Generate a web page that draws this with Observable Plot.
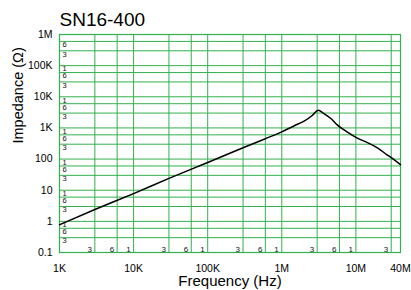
<!DOCTYPE html>
<html>
<head>
<meta charset="utf-8">
<script src="https://cdn.jsdelivr.net/npm/d3@7"></script>
<script src="https://cdn.jsdelivr.net/npm/@observablehq/plot@0.6"></script>
<style>
  html, body { margin: 0; padding: 0; background: #fff; }
  svg { font-family: "Liberation Sans", Arial, Helvetica, sans-serif; }
</style>
</head>
<body>
<div id="chart"></div>
<script>
const title = "SN16-400";
const xTitle = "Frequency (Hz)";
const yTitle = "Impedance (Ω)";

// Measured curve
const freqHz = [1e3, 3e3, 1e4, 3e4, 1e5, 3e5, 6e5, 1e6, 1.5e6, 2e6, 2.6e6, 3.1e6, 3.7e6, 4.6e6, 5.6e6, 7e6, 1e7, 1.5e7, 2e7, 2.6e7, 3.2e7, 4e7];
const impedanceOhm = [0.78, 2.4, 7.8, 24, 78, 230, 450, 750, 1200, 1650, 2550, 3700, 2900, 2000, 1250, 850, 500, 320, 220, 140, 100, 66];

// Axis ticks
const xTicks = [1e3, 1e4, 1e5, 1e6, 1e7, 4e7];
const xTickLabels = ["1K", "10K", "100K", "1M", "10M", "40M"];
const yTicks = [0.1, 1, 10, 100, 1e3, 1e4, 1e5, 1e6];
const yTickLabels = ["0.1", "1", "10", "100", "1K", "10K", "100K", "1M"];

// Grid lines and in-plot minor labels
const xGrid = [3e3, 6e3, 1e4, 3e4, 6e4, 1e5, 3e5, 6e5, 1e6, 3e6, 6e6, 1e7, 3e7];
const xGridLabels = ["3", "6", "1", "3", "6", "1", "3", "6", "1", "3", "6", "1", "3"];
const yGrid = [0.3, 0.6, 1, 3, 6, 10, 30, 60, 100, 300, 600, 1e3, 3e3, 6e3, 1e4, 3e4, 6e4, 1e5, 3e5, 6e5];
const yGridLabels = ["3", "6", "1", "3", "6", "1", "3", "6", "1", "3", "6", "1", "3", "6", "1", "3", "6", "1", "3", "6"];

const curve = freqHz.map((f, i) => ({f, z: impedanceOhm[i]}));
const green = "#34b04f";

const chart = Plot.plot({
  width: 411,
  height: 290,
  marginTop: 34,
  marginBottom: 38,
  marginLeft: 59,
  marginRight: 11,
  x: {type: "log", domain: [1e3, 4e7], axis: null},
  y: {type: "log", domain: [0.1, 1e6], axis: null},
  marks: [
    Plot.ruleX(xGrid, {stroke: green, strokeWidth: 1}),
    Plot.ruleY(yGrid, {stroke: green, strokeWidth: 1}),
    Plot.frame({stroke: green, strokeWidth: 1.2}),
    Plot.text(yGrid, {x: 1e3, y: d => d, text: (d, i) => yGridLabels[i], dx: 3, dy: 0.5, textAnchor: "start", lineAnchor: "top", fontSize: 7.5, fill: "#111"}),
    Plot.text(xGrid, {x: d => d, y: 0.1, text: (d, i) => xGridLabels[i], dx: -3, dy: -1, textAnchor: "end", lineAnchor: "bottom", fontSize: 8, fill: "#111"}),
    Plot.line(curve, {x: "f", y: "z", stroke: "black", strokeWidth: 1.5, curve: "monotone-x"}),
    Plot.text(yTicks, {x: 1e3, y: d => d, text: (d, i) => yTickLabels[i], dx: -7, textAnchor: "end", fontSize: 10.5, fill: "black"}),
    Plot.text(xTicks, {x: d => d, y: 0.1, text: (d, i) => xTickLabels[i], dy: 16, fontSize: 10.5, fill: "black"}),
    Plot.text([title], {frameAnchor: "top-left", dy: -9, textAnchor: "start", lineAnchor: "bottom", fontSize: 19, fill: "black"}),
    Plot.text([xTitle], {frameAnchor: "bottom", dy: 29, lineAnchor: "middle", fontSize: 15, fill: "black"}),
    Plot.text([yTitle], {frameAnchor: "left", dx: -41, rotate: -90, fontSize: 14.5, fill: "black"})
  ]
});
document.getElementById("chart").appendChild(chart);
</script>
</body>
</html>
